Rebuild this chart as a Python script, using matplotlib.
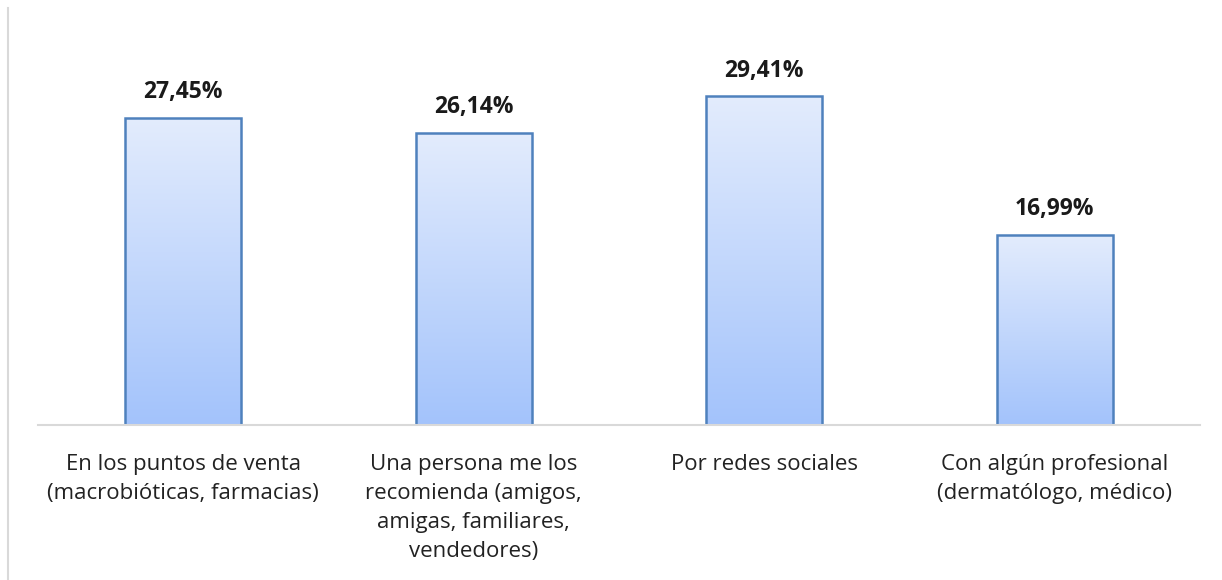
import numpy as np
import matplotlib.pyplot as plt
from matplotlib.colors import LinearSegmentedColormap
from matplotlib.lines import Line2D

# Cómo conocieron los productos (% de respuestas)
categorias = [
    "En los puntos de venta\n(macrobióticas, farmacias)",
    "Una persona me los\nrecomienda (amigos,\namigas, familiares,\nvendedores)",
    "Por redes sociales",
    "Con algún profesional\n(dermatólogo, médico)",
]
porcentajes = [27.45, 26.14, 29.41, 16.99]
etiquetas = ["27,45%", "26,14%", "29,41%", "16,99%"]

plt.rcParams["font.family"] = ["Open Sans", "DejaVu Sans"]

W, H = 1222, 580
fig = plt.figure(figsize=(W / 100, H / 100), dpi=100)
ax = fig.add_axes([38 / W, 1 - 425 / H, (1200 - 38) / W, (425 - 8) / H])

x = np.arange(len(categorias))
bars = ax.bar(x, porcentajes, width=0.4, facecolor="none",
              edgecolor="#4F81BD", linewidth=1.8, zorder=3)

# relleno degradado de cada barra (claro arriba, más azul abajo)
cmap = LinearSegmentedColormap.from_list("azul", ["#A3C3FB", "#E3ECFD"])
grad = np.linspace(0, 1, 256).reshape(-1, 1)
for b in bars:
    x0, y0 = b.get_x(), b.get_y()
    im = ax.imshow(grad, cmap=cmap, origin="lower", aspect="auto",
                   extent=[x0, x0 + b.get_width(), y0, y0 + b.get_height()],
                   zorder=2)
    im.set_clip_path(b)

for xi, v, t in zip(x, porcentajes, etiquetas):
    ax.text(xi, v + 1.2, t, ha="center", va="bottom", fontsize=16.5,
            fontweight="bold", color="#1a1a1a")

ax.set_xlim(-0.5, 3.5)
ax.set_ylim(0, 37.27)
ax.set_xticks(x)
ax.set_xticklabels(categorias, fontsize=16, color="#222222", linespacing=1.5)
ax.tick_params(axis="x", length=0, pad=21)
ax.set_yticks([])
for s in ["top", "right", "left"]:
    ax.spines[s].set_visible(False)
ax.spines["bottom"].set_color("#D9D9D9")
ax.spines["bottom"].set_linewidth(1.5)
ax.spines["bottom"].set_zorder(4)

# línea vertical gris del borde izquierdo
fig.add_artist(Line2D([8 / W, 8 / W], [0, 1 - 8 / H], color="#D9D9D9",
                      linewidth=1.5, transform=fig.transFigure))

fig.savefig("out.png", dpi=100, facecolor="white")
